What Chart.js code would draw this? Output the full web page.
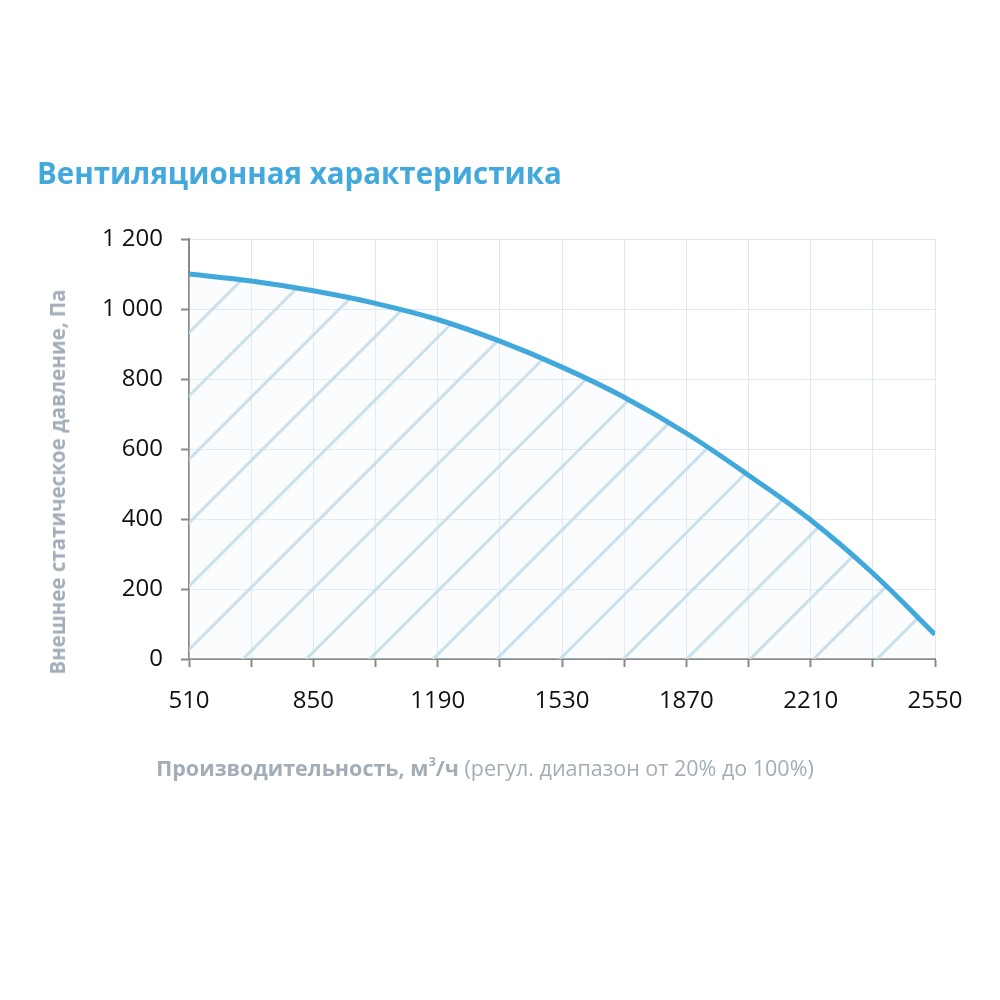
<!DOCTYPE html>
<html>
<head>
<meta charset="utf-8">
<script src="https://cdn.jsdelivr.net/npm/chart.js@4/dist/chart.umd.min.js"></script>
<style>
  html, body { margin: 0; padding: 0; background: #ffffff; }
  #wrap { position: relative; width: 1000px; height: 1000px; overflow: hidden; }
  #c { position: absolute; left: 0; top: 0; }
  .t { position: absolute; font-family: "Open Sans", sans-serif; white-space: nowrap; }
  #title { left: 37px; top: 152px; font-size: 29.5px; font-weight: 700; color: #43a9dd; }
  #ytitle { left: 57px; top: 482px; transform: translate(-50%, -50%) rotate(-90deg); font-size: 20.5px; font-weight: 700; color: #a2adb8; }
  #xtitle { left: 485px; top: 767px; transform: translate(-50%, -50%); font-size: 21.5px; color: #a2adb8; }
  #xtitle b { font-weight: 700; }
  #xtitle sup { font-size: 13px; vertical-align: 10px; line-height: 0; }
</style>
</head>
<body>
<div id="wrap">
  <canvas id="c" width="1000" height="1000"></canvas>
  <div class="t" id="title">Вентиляционная характеристика</div>
  <div class="t" id="ytitle">Внешнее статическое давление, Па</div>
  <div class="t" id="xtitle"><b>Производительность, м<sup>3</sup>/ч</b> (регул. диапазон от 20% до 100%)</div>
</div>
<script>
// ---- data ----
const airflow = [510, 680, 850, 1020, 1190, 1360, 1530, 1700, 1870, 2040, 2210, 2380, 2550];
const pressure = [1100, 1080, 1052, 1016, 970, 908, 834, 748, 645, 525, 397, 245, 70];
const xTickLabels = ['510', '850', '1190', '1530', '1870', '2210', '2550'];
const yTickLabels = ['0', '200', '400', '600', '800', '1 000', '1 200'];

const ctx = document.getElementById('c').getContext('2d');

// diagonal hatch pattern (style only)
const hatch = ctx.createPattern((function () {
  const size = 634, step = 63.4, offset = 14.4;
  const pc = document.createElement('canvas');
  pc.width = size; pc.height = size;
  const g = pc.getContext('2d');
  g.fillStyle = 'rgba(240,246,250,0.3)';
  g.fillRect(0, 0, size, size);
  for (let k = -2; k <= 22; k++) {
    const s = offset + step * k;
    g.strokeStyle = 'rgba(192,218,235,0.85)';
    g.lineWidth = 3;
    g.beginPath(); g.moveTo(s + 20, -20); g.lineTo(-20, s + 20); g.stroke();
    g.strokeStyle = 'rgba(208,224,233,0.9)';
    g.lineWidth = 1;
    g.beginPath(); g.moveTo(s + 20, -20); g.lineTo(-20, s + 20); g.stroke();
  }
  return pc;
})(), 'repeat');

new Chart(ctx, {
  type: 'line',
  data: {
    datasets: [{
      data: airflow.map((x, i) => ({ x: x, y: pressure[i] })),
      borderColor: '#41a8dc',
      borderWidth: 5,
      pointRadius: 0,
      tension: 0.4,
      fill: 'origin',
      backgroundColor: hatch
    }]
  },
  options: {
    responsive: false,
    animation: false,
    devicePixelRatio: 1,
    layout: { padding: { left: 0, right: 65, top: 239, bottom: 281 } },
    plugins: { legend: { display: false }, tooltip: { enabled: false } },
    scales: {
      x: {
        type: 'linear',
        min: 510, max: 2550,
        afterBuildTicks: (s) => { s.ticks = airflow.map(v => ({ value: v })); },
        afterFit: (s) => { s.height = 60; },
        ticks: {
          autoSkip: false,
          maxRotation: 0,
          padding: 20,
          color: '#111111',
          font: { family: 'Open Sans', size: 24 },
          callback: (v, i) => (i % 2 === 0 ? xTickLabels[i / 2] : '')
        },
        grid: { color: '#dfe7ef', lineWidth: 1, tickColor: '#8a8a8a', tickLength: 8, tickWidth: 2 },
        border: { color: '#8a8a8a', width: 2 }
      },
      y: {
        type: 'linear',
        min: 0, max: 1200,
        afterBuildTicks: (s) => { s.ticks = yTickLabels.map((t, i) => ({ value: i * 200 })); },
        afterFit: (s) => { s.width = 189; },
        ticks: {
          padding: 18,
          color: '#111111',
          font: { family: 'Open Sans', size: 24 },
          callback: (v, i) => yTickLabels[i]
        },
        grid: { color: '#dfe7ef', lineWidth: 1, tickColor: '#8a8a8a', tickLength: 8, tickWidth: 2 },
        border: { color: '#8a8a8a', width: 2 }
      }
    }
  }
});
</script>
</body>
</html>
